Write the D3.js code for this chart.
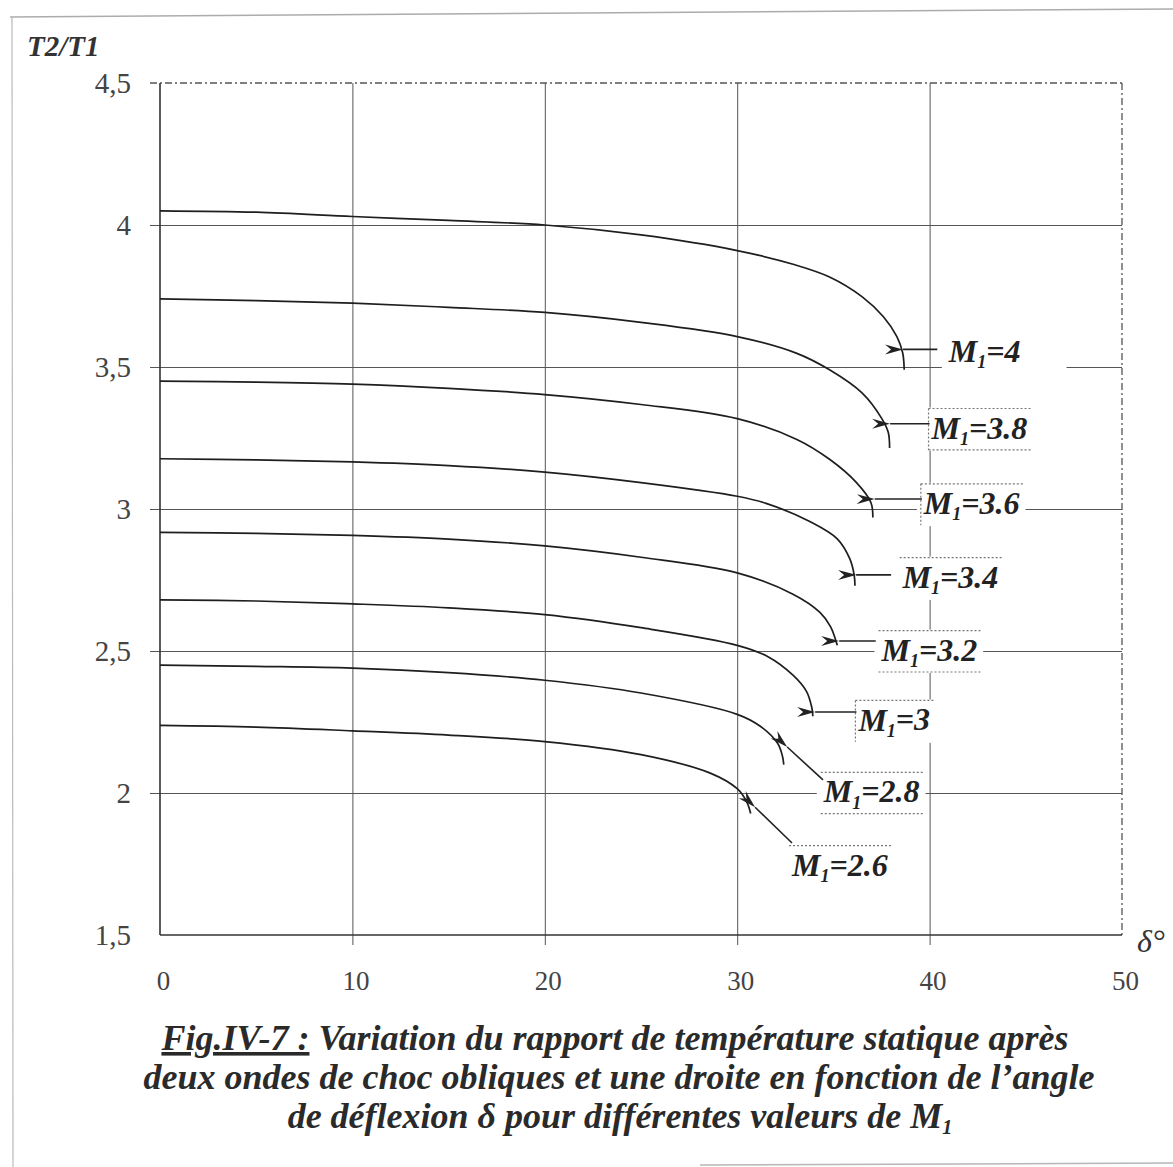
<!DOCTYPE html>
<html>
<head>
<meta charset="utf-8">
<script src="https://cdn.jsdelivr.net/npm/d3@7"></script>
<style>
  html, body { margin: 0; padding: 0; background: #fff; }
  svg { display: block; }
  text { font-family: "Liberation Serif", "DejaVu Serif", serif; }
</style>
</head>
<body>
<svg id="chart" width="1173" height="1167"></svg>
<script>
// ---------------- DATA ----------------
const xTicks = [0, 10, 20, 30, 40, 50];
const xTickLabels = ["0", "10", "20", "30", "40", "50"];
const yTicks = [1.5, 2, 2.5, 3, 3.5, 4, 4.5];
const yTickLabels = ["1,5", "2", "2,5", "3", "3,5", "4", "4,5"];

const machNumbers = ["4", "3.8", "3.6", "3.4", "3.2", "3", "2.8", "2.6"];

// [delta (deg), T2/T1]
const curveM40 = [[0,4.05],[5,4.045],[10,4.03],[15,4.016],[20,4.0],[25,3.965],[30,3.91],[33,3.86],[34.8,3.817],[36.5,3.747],[37.6,3.677],[38.3,3.607],[38.6,3.55],[38.68,3.49]];
const curveM38 = [[0,3.74],[5,3.734],[10,3.725],[15,3.71],[20,3.692],[25,3.657],[30,3.607],[33.1,3.548],[34.8,3.49],[36.5,3.408],[37.5,3.32],[37.85,3.27],[37.92,3.215]];
const curveM36 = [[0,3.45],[5,3.447],[10,3.44],[15,3.425],[20,3.403],[25,3.368],[30,3.318],[33.1,3.245],[34.8,3.175],[36.2,3.093],[36.95,3.023],[37.05,2.97]];
const curveM34 = [[0,3.177],[5,3.173],[10,3.166],[15,3.153],[20,3.13],[25,3.093],[30,3.045],[31.5,3.02],[33.8,2.955],[35.2,2.895],[35.85,2.825],[36.08,2.767],[36.12,2.73]];
const curveM32 = [[0,2.918],[5,2.914],[10,2.907],[15,2.894],[20,2.87],[25,2.83],[30,2.775],[32.9,2.70],[34.3,2.636],[34.85,2.586],[35.2,2.52]];
const curveM30 = [[0,2.68],[5,2.676],[10,2.666],[15,2.652],[20,2.628],[25,2.582],[30,2.52],[31.6,2.48],[32.9,2.415],[33.6,2.358],[33.88,2.30],[33.93,2.27]];
const curveM28 = [[0,2.45],[5,2.446],[10,2.44],[15,2.424],[20,2.397],[25,2.352],[30,2.277],[31.2,2.235],[32.1,2.175],[32.35,2.13],[32.42,2.10]];
const curveM26 = [[0,2.238],[5,2.232],[10,2.219],[15,2.204],[20,2.181],[25,2.135],[28.6,2.07],[30,2.015],[30.5,1.968],[30.7,1.928]];

const curves = [curveM40, curveM38, curveM36, curveM34, curveM32, curveM30, curveM28, curveM26];

// ---------------- LAYOUT (annotations, in data units) ----------------
const labelLayout = [
  { tx: 41.0, ty: 3.555, ax: 40.4,  ay: 3.562, px: 38.62, py: 3.562, box: "",    wide: 40 },
  { tx: 40.1, ty: 3.285, ax: 40.0,  ay: 3.300, px: 37.95, py: 3.300, box: "tbl", wide: 0 },
  { tx: 39.7, ty: 3.020, ax: 39.6,  ay: 3.035, px: 37.15, py: 3.035, box: "tl",  wide: 0 },
  { tx: 38.6, ty: 2.760, ax: 38.0,  ay: 2.768, px: 36.18, py: 2.768, box: "t",   wide: 0 },
  { tx: 37.5, ty: 2.503, ax: 37.2,  ay: 2.535, px: 35.3,  py: 2.535, box: "tb",  wide: 0 },
  { tx: 36.3, ty: 2.257, ax: 36.2,  ay: 2.285, px: 34.05, py: 2.285, box: "tl",  wide: 0 },
  { tx: 34.5, ty: 2.004, ax: 34.46, ay: 2.046, px: 32.6,  py: 2.162, box: "tb",  wide: 0 },
  { tx: 32.85, ty: 1.746, ax: 32.85, ay: 1.824, px: 30.93, py: 1.95, box: "t",   wide: 0 }
];

const captionLines = [
  "Variation du rapport de température statique après",
  "deux ondes de choc obliques et une droite en fonction de l’angle",
  "de déflexion δ pour différentes valeurs de M"
];

// ---------------- DRAW ----------------
const SERIF = "Liberation Serif";
const svg = d3.select("#chart");
const x = d3.scaleLinear().domain([0, 50]).range([160, 1122]);
const y = d3.scaleLinear().domain([1.5, 4.5]).range([935, 83]);

// scan page edges
svg.append("line").attr("x1", 10).attr("y1", 17).attr("x2", 1173).attr("y2", 9)
  .attr("stroke", "#8a8a8a").attr("stroke-width", 1.5).attr("opacity", 0.7);
svg.append("line").attr("x1", 12).attr("y1", 17).attr("x2", 13).attr("y2", 1167)
  .attr("stroke", "#bbb").attr("stroke-width", 1.2);
svg.append("line").attr("x1", 700).attr("y1", 1165).attr("x2", 1173).attr("y2", 1163)
  .attr("stroke", "#999").attr("stroke-width", 1.5).attr("opacity", 0.7);

// horizontal grid (y axis)
const yAxis = d3.axisLeft(y)
  .tickValues(yTicks.filter(v => v > 1.5 && v < 4.5))
  .tickSize(-(x(50) - x(0)))
  .tickFormat("");
const gy = svg.append("g").attr("transform", `translate(${x(0)},0)`).call(yAxis);
gy.select(".domain").remove();
gy.selectAll(".tick line").attr("x1", -10).attr("stroke", "#555").attr("stroke-width", 1);

// vertical grid (x axis)
const xAxis = d3.axisBottom(x)
  .tickValues(xTicks.filter(v => v > 0 && v < 50))
  .tickSize(-(y(1.5) - y(4.5)))
  .tickFormat("");
const gx = svg.append("g").attr("transform", `translate(0,${y(1.5)})`).call(xAxis);
gx.select(".domain").remove();
gx.selectAll(".tick line").attr("y1", 10).attr("stroke", "#555").attr("stroke-width", 1);

// top border (dashed) and right border (dash-dot)
svg.append("line").attr("x1", x(0) - 10).attr("x2", x(50)).attr("y1", y(4.5)).attr("y2", y(4.5))
  .attr("stroke", "#555").attr("stroke-width", 1.3).attr("stroke-dasharray", "7,3,2,3");
svg.append("line").attr("x1", x(50)).attr("x2", x(50)).attr("y1", y(4.5)).attr("y2", y(1.5))
  .attr("stroke", "#555").attr("stroke-width", 1.3).attr("stroke-dasharray", "7,3,2,3");

// main axes
svg.append("line").attr("x1", x(0)).attr("x2", x(0)).attr("y1", y(4.5)).attr("y2", y(1.5))
  .attr("stroke", "#333").attr("stroke-width", 1.6);
svg.append("line").attr("x1", x(0)).attr("x2", x(50)).attr("y1", y(1.5)).attr("y2", y(1.5))
  .attr("stroke", "#333").attr("stroke-width", 1.6);

// tick labels
const yLab = d3.axisLeft(y).tickValues(yTicks).tickSize(0).tickPadding(0)
  .tickFormat(d => yTickLabels[yTicks.indexOf(d)]);
const gyl = svg.append("g").attr("transform", `translate(131,0)`).call(yLab);
gyl.select(".domain").remove();
gyl.attr("font-family", SERIF);
gyl.selectAll("text").attr("font-family", SERIF).attr("font-size", 29).attr("fill", "#444").attr("dy", "0.33em");

const xLab = d3.axisBottom(x).tickValues(xTicks).tickSize(0).tickPadding(0)
  .tickFormat(d => xTickLabels[xTicks.indexOf(d)]);
const gxl = svg.append("g").attr("transform", `translate(3,976)`).call(xLab);
gxl.select(".domain").remove();
gxl.attr("font-family", SERIF);
gxl.selectAll("text").attr("font-family", SERIF).attr("font-size", 27).attr("fill", "#444").attr("dy", "0.5em");

// axis titles
svg.append("text").attr("x", 27).attr("y", 56).attr("font-size", 29)
  .attr("font-style", "italic").attr("font-weight", "bold").attr("fill", "#333").text("T2/T1");
svg.append("text").attr("x", 1137).attr("y", 952).attr("font-size", 32)
  .attr("font-style", "italic").attr("fill", "#333").text("δ°");

// label backgrounds (break grid lines) + labels
const labG = svg.append("g");
labelLayout.forEach((L, i) => {
  const g = labG.append("g");
  const bg = g.append("rect").attr("fill", "#fff");
  const t = g.append("text")
    .attr("x", x(L.tx)).attr("y", y(L.ty)).attr("dy", "0.33em")
    .attr("font-size", 32).attr("font-style", "italic").attr("font-weight", "bold")
    .attr("fill", "#222");
  t.append("tspan").text("M");
  t.append("tspan").attr("font-size", 18).attr("dy", "0.35em").text("1");
  t.append("tspan").attr("dy", "-0.2em").text("=" + machNumbers[i]);
  const bb = t.node().getBBox();
  bg.attr("x", bb.x - 6).attr("y", bb.y - 2).attr("width", bb.width + 12 + L.wide).attr("height", bb.height + 4);
  const dot = (x1, y1, x2, y2) => g.append("line").attr("x1", x1).attr("y1", y1).attr("x2", x2).attr("y2", y2)
    .attr("stroke", "#777").attr("stroke-width", 1.2).attr("stroke-dasharray", "2,2");
  const top = bb.y - 1, bot = bb.y + bb.height + 1;
  if (L.box.includes("t")) dot(bb.x - 2, top, bb.x + bb.width + 4, top);
  if (L.box.includes("b")) dot(bb.x - 2, bot, bb.x + bb.width + 4, bot);
  if (L.box.includes("l")) dot(bb.x - 2, top, bb.x - 2, bot);
});

// curves
const line = d3.line().x(d => x(d[0])).y(d => y(d[1])).curve(d3.curveCatmullRom.alpha(0.5));
svg.append("g").selectAll("path").data(curves).join("path")
  .attr("d", line).attr("fill", "none").attr("stroke", "#1e1e1e").attr("stroke-width", 1.7);

// arrows
svg.append("defs").append("marker")
  .attr("id", "ah").attr("viewBox", "0 -7 18 14").attr("refX", 0).attr("refY", 0)
  .attr("markerWidth", 18).attr("markerHeight", 14).attr("markerUnits", "userSpaceOnUse")
  .attr("orient", "auto-start-reverse")
  .append("path").attr("d", "M18,-5 L0,0 L18,5 L12,0 Z").attr("fill", "#222");
svg.append("g").selectAll("line").data(labelLayout).join("line")
  .attr("x1", d => x(d.px)).attr("y1", d => y(d.py))
  .attr("x2", d => x(d.ax)).attr("y2", d => y(d.ay))
  .attr("stroke", "#222").attr("stroke-width", 1.6)
  .attr("marker-start", "url(#ah)");

// caption
const cap = svg.append("g").attr("font-size", 36).attr("font-style", "italic")
  .attr("font-weight", "bold").attr("fill", "#2a2a2a").attr("text-anchor", "middle");
const c1 = cap.append("text").attr("x", 615).attr("y", 1050);
c1.append("tspan").attr("text-decoration", "underline").text("Fig.IV-7 :");
c1.append("tspan").text(" " + captionLines[0]);
cap.append("text").attr("x", 619).attr("y", 1089).text(captionLines[1]);
const c3 = cap.append("text").attr("x", 620).attr("y", 1128);
c3.append("tspan").text(captionLines[2]);
c3.append("tspan").attr("font-size", 20).attr("dy", "0.3em").text("1");
</script>
</body>
</html>
